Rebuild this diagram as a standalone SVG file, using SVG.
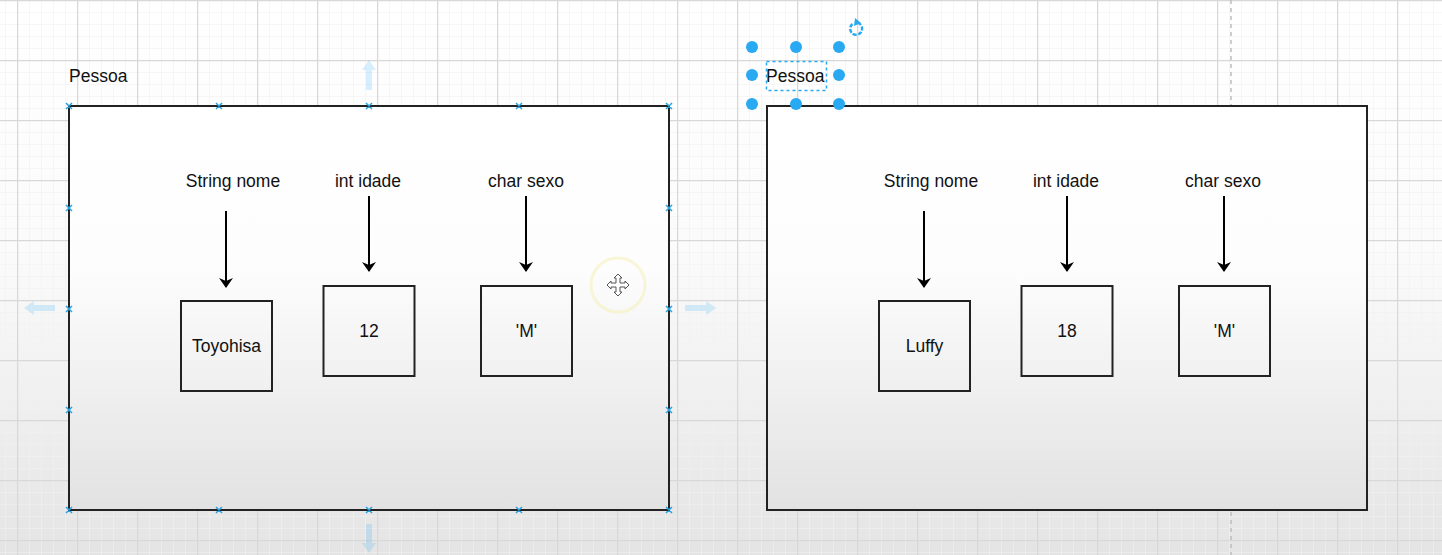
<svg xmlns="http://www.w3.org/2000/svg" width="1442" height="555" viewBox="0 0 1442 555">
  <defs>
    <linearGradient id="bg" x1="0" y1="0" x2="0" y2="1">
      <stop offset="0" stop-color="#ffffff"/>
      <stop offset="0.45" stop-color="#fbfbfb"/>
      <stop offset="1" stop-color="#e4e4e4"/>
    </linearGradient>
    <linearGradient id="fill" gradientUnits="userSpaceOnUse" x1="0" y1="106" x2="0" y2="510">
      <stop offset="0" stop-color="#ffffff"/>
      <stop offset="0.4" stop-color="#fdfdfd"/>
      <stop offset="1" stop-color="#e2e2e2"/>
    </linearGradient>
    <pattern id="minor" width="12" height="12" patternUnits="userSpaceOnUse" x="5" y="0">
      <path d="M0 0.5 H12 M0.5 0 V12" fill="none" stroke="#f1f1f1" stroke-width="1"/>
    </pattern>
    <pattern id="major" width="60" height="60" patternUnits="userSpaceOnUse" x="17" y="0">
      <path d="M0 0.5 H60 M0.5 0 V60" fill="none" stroke="#d8d8d8" stroke-width="1.5"/>
    </pattern>
    <marker id="arrow" viewBox="0 0 10 14" refX="9" refY="7" markerWidth="10" markerHeight="14" markerUnits="userSpaceOnUse" orient="auto">
      <path d="M0 0 L10 7 L0 14 L3 7 Z" fill="#000"/>
    </marker>
    <style>
      .frame { fill: url(#fill); stroke: #222; stroke-width: 2; }
      .box { fill: none; stroke: #222; stroke-width: 2; }
      .lbl { font-family: "Liberation Sans", Arial, sans-serif; font-size: 17.5px; fill: #111; text-anchor: middle; }
      .title { font-family: "Liberation Sans", Arial, sans-serif; font-size: 17.5px; fill: #111; }
      .edge { stroke: #000; stroke-width: 2; fill: none; marker-end: url(#arrow); }
      .cp { stroke: #29a3e0; stroke-width: 1.5; fill: none; }
      .handle { fill: #29a9f2; }
      .hover { fill: #29a9f2; opacity: 0.18; }
    </style>
  </defs>

  <!-- background and grid -->
  <rect x="0" y="0" width="1442" height="555" fill="url(#bg)"/>
  <rect x="0" y="0" width="1442" height="555" fill="url(#minor)" opacity="0.6"/>
  <rect x="0" y="0" width="1442" height="555" fill="url(#major)"/>
  <line x1="1231" y1="0" x2="1231" y2="555" stroke="#bdbdbd" stroke-width="1.5" stroke-dasharray="4 4"/>

  <!-- Left object -->
  <g id="pessoa1">
    <text class="title" x="69" y="82">Pessoa</text>
    <rect class="frame" x="69" y="106" width="600" height="404"/>
  </g>
  <g id="nome1">
    <text class="lbl" x="233" y="187">String nome</text>
  </g>
  <g id="idade1">
    <text class="lbl" x="368" y="187">int idade</text>
  </g>
  <g id="sexo1">
    <text class="lbl" x="526" y="187">char sexo</text>
  </g>
  <g id="val-nome1">
    <rect class="box" x="181" y="301" width="91" height="90"/>
    <text class="lbl" x="226.5" y="352">Toyohisa</text>
  </g>
  <g id="val-idade1">
    <rect class="box" x="323.5" y="286" width="91" height="90"/>
    <text class="lbl" x="369" y="337">12</text>
  </g>
  <g id="val-sexo1">
    <rect class="box" x="481" y="286" width="91" height="90"/>
    <text class="lbl" x="526.5" y="337">'M'</text>
  </g>

  <!-- Right object -->
  <g id="pessoa2">
    <rect class="frame" x="767" y="106" width="600" height="404"/>
    <text class="title" x="766" y="82">Pessoa</text>
  </g>
  <g id="nome2">
    <text class="lbl" x="931" y="187">String nome</text>
  </g>
  <g id="idade2">
    <text class="lbl" x="1066" y="187">int idade</text>
  </g>
  <g id="sexo2">
    <text class="lbl" x="1223" y="187">char sexo</text>
  </g>
  <g id="val-nome2">
    <rect class="box" x="879" y="301" width="91" height="90"/>
    <text class="lbl" x="924.5" y="352">Luffy</text>
  </g>
  <g id="val-idade2">
    <rect class="box" x="1021.5" y="286" width="91" height="90"/>
    <text class="lbl" x="1067" y="337">18</text>
  </g>
  <g id="val-sexo2">
    <rect class="box" x="1179" y="286" width="91" height="90"/>
    <text class="lbl" x="1224.5" y="337">'M'</text>
  </g>

  <!-- connectors -->
  <g id="connectors">
    <line class="edge" x1="226" y1="211" x2="226" y2="287"/>
    <line class="edge" x1="369" y1="196" x2="369" y2="271"/>
    <line class="edge" x1="526" y1="196" x2="526" y2="271"/>
    <line class="edge" x1="924" y1="211" x2="924" y2="287"/>
    <line class="edge" x1="1067" y1="196" x2="1067" y2="271"/>
    <line class="edge" x1="1224" y1="196" x2="1224" y2="271"/>
  </g>

  <!-- editor overlays: connection points on left frame -->
  <g id="connection-points">
    <path class="cp" d="M66 103 l6 6 M72 103 l-6 6 M216 103 l6 6 M222 103 l-6 6 M366 103 l6 6 M372 103 l-6 6 M516 103 l6 6 M522 103 l-6 6 M666 103 l6 6 M672 103 l-6 6"/>
    <path class="cp" d="M66 507 l6 6 M72 507 l-6 6 M216 507 l6 6 M222 507 l-6 6 M366 507 l6 6 M372 507 l-6 6 M516 507 l6 6 M522 507 l-6 6 M666 507 l6 6 M672 507 l-6 6"/>
    <path class="cp" d="M66 205 l6 6 M72 205 l-6 6 M66 306 l6 6 M72 306 l-6 6 M66 407 l6 6 M72 407 l-6 6"/>
    <path class="cp" d="M666 205 l6 6 M672 205 l-6 6 M666 306 l6 6 M672 306 l-6 6 M666 407 l6 6 M672 407 l-6 6"/>
  </g>

  <!-- hover arrows -->
  <g id="hover-arrows">
    <path class="hover" d="M369 60 L376 70 L372 70 L372 90 L366 90 L366 70 L362 70 Z"/>
    <path class="hover" d="M369 553 L376 543 L372 543 L372 524 L366 524 L366 543 L362 543 Z"/>
    <path class="hover" d="M24 308 L34 301 L34 305 L55 305 L55 311 L34 311 L34 315 Z"/>
    <path class="hover" d="M716 308 L706 301 L706 305 L685 305 L685 311 L706 311 L706 315 Z"/>
  </g>

  <!-- move cursor -->
  <g id="move-cursor" fill="#fff" stroke="#555" stroke-width="1">
    <circle cx="618" cy="285" r="27" fill="none" stroke="#f3f0b0" stroke-width="3" opacity="0.5"/>
    <path d="M618 274 L622 278 L620 278 L620 283 L625 283 L625 281 L629 285 L625 289 L625 287 L620 287 L620 292 L622 292 L618 296 L614 292 L616 292 L616 287 L611 287 L611 289 L607 285 L611 281 L611 283 L616 283 L616 278 L614 278 Z"/>
  </g>

  <!-- selection handles on right label -->
  <g id="selection">
    <rect x="766.5" y="61.5" width="60" height="29" fill="none" stroke="#29a9f2" stroke-width="1.5" stroke-dasharray="3 3"/>
    <circle class="handle" cx="752" cy="47" r="6"/>
    <circle class="handle" cx="796" cy="47" r="6"/>
    <circle class="handle" cx="839" cy="47" r="6"/>
    <circle class="handle" cx="752" cy="75" r="6"/>
    <circle class="handle" cx="839" cy="75" r="6"/>
    <circle class="handle" cx="752" cy="104" r="6"/>
    <circle class="handle" cx="796" cy="104" r="6"/>
    <circle class="handle" cx="839" cy="104" r="6"/>
    <path d="M852.5 24 A6 6 0 1 0 859 23.5" fill="none" stroke="#29a9f2" stroke-width="2.5" stroke-dasharray="4 1.5"/>
    <path d="M855 18 L861 23 L854 26 Z" fill="#29a9f2"/>
  </g>
</svg>
